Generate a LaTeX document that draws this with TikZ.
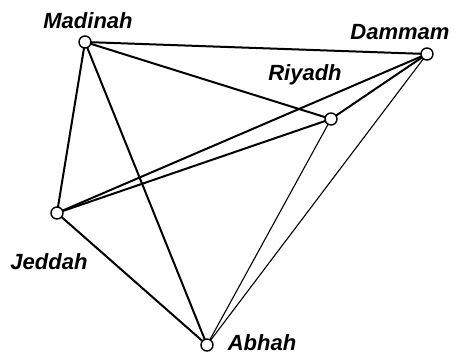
\documentclass[tikz,border=0pt]{standalone}
\usepackage{fontspec}
\setmainfont{Liberation Sans}
\begin{document}
\begin{tikzpicture}[x=1pt,y=-1pt,
  city/.style={circle,draw=black,fill=white,line width=1.4pt,minimum size=12pt,inner sep=0pt},
  lbl/.style={font=\bfseries\itshape\fontsize{22}{24}\selectfont,inner sep=0pt},
  edge/.style={line width=2pt},
  thinedge/.style={line width=1.1pt}]
\useasboundingbox (0,0) rectangle (458,356);
\coordinate (M) at (85,42);
\coordinate (D) at (427,54);
\coordinate (R) at (331,119);
\coordinate (J) at (57,213);
\coordinate (A) at (207,345);
\draw[edge] (M) -- (D);
\draw[edge] (M) -- (R);
\draw[edge] (M) -- (J);
\draw[edge] (M) -- (A);
\draw[edge] (D) -- (R);
\draw[edge] (D) -- (J);
\draw[edge] (R) -- (J);
\draw[edge] (J) -- (A);
\draw[thinedge] (R) -- (A);
\draw[thinedge] (D) -- (A);
\node[city] (Mn) at (M) {};
\node[city] (Dn) at (D) {};
\node[city] (Rn) at (R) {};
\node[city] (Jn) at (J) {};
\node[city] (An) at (A) {};
\node[lbl] (Ml) at (88,21) {Madinah};
\node[lbl] (Dl) at (400,32) {Dammam};
\node[lbl] (Rl) at (305,75) {Riyadh};
\node[lbl] (Jl) at (49,262) {Jeddah};
\node[lbl] (Al) at (262,343) {Abhah};
\end{tikzpicture}
\end{document}
